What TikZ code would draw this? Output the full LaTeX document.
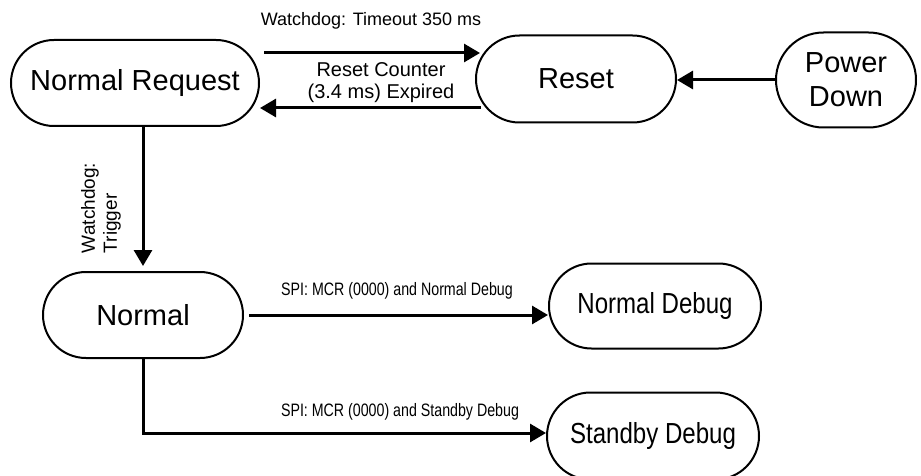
\documentclass[tikz,border=0pt]{standalone}
\usepackage{fontspec}
\setmainfont{Liberation Sans}
\newfontfamily\narrowfont[FakeStretch=0.83]{Liberation Sans}
\newfontfamily\spifont[FakeStretch=0.79]{Liberation Sans}
\usepackage{tikz}
\usetikzlibrary{shapes.misc, arrows.meta}
\usepackage{xcolor}
\tikzstyle{State} = [
rounded rectangle, draw,
line width=1pt,
inner sep=2pt,
align=center,
font=\fontsize{14.5}{17}\selectfont]
\tikzstyle{Debug} = [State, font=\narrowfont\fontsize{14.5}{17}\selectfont]
\tikzstyle{Label} = [inner sep=1pt, font=\fontsize{9}{11}\selectfont]
\tikzstyle{SpiLabel} = [inner sep=1pt, font=\spifont\fontsize{9}{11}\selectfont]
\tikzstyle{Arrow} = [
line width=1.5pt,
-{Triangle[length=8pt, width=9pt]}]

\begin{document}
\begin{tikzpicture}[x=0.5pt, y=-0.5pt]
    \useasboundingbox (0,0) rectangle (921,476);
    \node [State, minimum width=128pt, minimum height=43pt] (1) at (135,83) {Normal Request};
    \node [State, minimum width=104pt, minimum height=43.5pt] (2) at (576,79) {Reset};
    \node [State, minimum width=74pt, minimum height=47.5pt] (3) at (846,80) {Power\\Down};
    \node [State, minimum width=104pt, minimum height=43pt] (4) at (143,315) {Normal};
    \node [Debug, minimum width=110pt, minimum height=42.5pt] (5) at (655,306) {Normal Debug};
    \node [Debug, minimum width=110pt, minimum height=43.5pt] (6) at (653,436) {Standby Debug};

    \node [Label] (7) at (371,21) {Watchdog: Timeout 350 ms};
    \node [Label, align=center, font=\fontsize{10}{11}\selectfont] (8) at (381,83) {Reset Counter\\(3.4 ms) Expired};
    \node [Label, align=left, rotate=90, font=\fontsize{9.5}{11}\selectfont] (9) at (101,208) {Watchdog:\\Trigger};
    \node [SpiLabel] (10) at (397,291) {SPI: MCR (0000) and Normal Debug};
    \node [SpiLabel] (11) at (400,412) {SPI: MCR (0000) and Standby Debug};

    \draw[Arrow, shorten <=2pt] ([yshift=13pt]2.west -| 1.east) -- ([xshift=2.5pt, yshift=13pt]2.west);
    \draw[Arrow] ([xshift=3pt, yshift=-14.5pt]2.west) -- ([yshift=-14.5pt]2.west -| 1.east);
    \draw[Arrow] (3.west) -- (3.west -| 2.east);
    \draw[Arrow, shorten >=2.5pt] (1.south -| 4.north) -- (4.north);
    \draw[Arrow, shorten <=2.5pt] (4.east) -- (4.east -| 5.west);
    \draw[Arrow] (4.south) |- ([yshift=1.5pt]6.west);
\end{tikzpicture}
\end{document}
